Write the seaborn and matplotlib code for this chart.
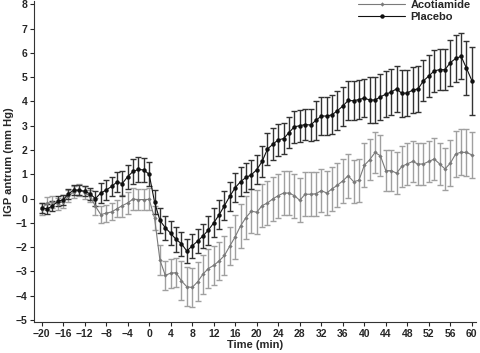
import matplotlib
matplotlib.use("Agg")
import matplotlib.pyplot as plt
import numpy as np
import pandas as pd
import seaborn as sns

time_min = list(range(-20, 61))

placebo = [-0.38, -0.42, -0.31, -0.11, -0.05, 0.20, 0.35, 0.35, 0.30, 0.20,
           0.00, 0.23, 0.35, 0.50, 0.68, 0.62, 0.90, 1.12, 1.20, 1.18,
           1.00, -0.14, -0.90, -1.20, -1.43, -1.68, -1.86, -2.16, -1.95, -1.75,
           -1.54, -1.30, -1.00, -0.67, -0.29, 0.10, 0.45, 0.70, 0.87, 0.98,
           1.19, 1.53, 2.04, 2.24, 2.42, 2.47, 2.72, 2.96, 3.00, 3.05,
           3.03, 3.22, 3.40, 3.40, 3.45, 3.62, 3.81, 4.04, 4.03, 4.08,
           4.14, 4.06, 4.06, 4.19, 4.30, 4.39, 4.52, 4.33, 4.35, 4.47,
           4.52, 4.85, 5.05, 5.26, 5.31, 5.31, 5.60, 5.77, 5.86, 5.37,
           4.86]

placebo_sem = ([0.2] * 9 + [0.25, 0.3] + [0.4] * 4 + [0.5] * 6 + [0.5] * 10 +
               [0.6] * 10 + [0.65] * 10 + [0.8] * 10 + [0.95] * 10 +
               [0.85] * 5 + [0.95] * 3 + [1.1, 1.4])

acotiamide = [-0.42, -0.20, -0.15, -0.22, -0.12, 0.10, 0.28, 0.35, 0.25, 0.10,
              -0.31, -0.66, -0.60, -0.55, -0.42, -0.29, -0.18, -0.02, -0.04, -0.04,
              -0.03, -0.80, -2.53, -3.16, -3.07, -3.05, -3.39, -3.63, -3.66, -3.43,
              -3.11, -2.88, -2.75, -2.57, -2.34, -1.95, -1.57, -1.12, -0.78, -0.52,
              -0.56, -0.29, -0.18, -0.01, 0.12, 0.23, 0.23, 0.12, -0.07, 0.18,
              0.18, 0.20, 0.33, 0.23, 0.40, 0.55, 0.73, 0.94, 0.70, 0.75,
              1.37, 1.60, 1.90, 1.76, 1.15, 1.15, 1.05, 1.33, 1.43, 1.53,
              1.42, 1.43, 1.53, 1.63, 1.43, 1.22, 1.46, 1.84, 1.91, 1.90,
              1.80]

acotiamide_sem = ([0.25] * 10 + [0.35] * 5 + [0.45] * 6 + [0.5] + [0.6] * 4 +
                  [0.8] * 10 + [0.9] * 25 + [0.85] * 15 + [0.95] * 5)

df = pd.DataFrame({
    "time": time_min * 2,
    "igp": acotiamide + placebo,
    "sem": acotiamide_sem + placebo_sem,
    "group": ["Acotiamide"] * len(time_min) + ["Placebo"] * len(time_min),
})

sns.set_style("ticks")
plt.rcParams["font.family"] = ["Liberation Sans", "DejaVu Sans"]
plt.rcParams["font.weight"] = "bold"

fig = plt.figure(figsize=(4.8, 3.53), dpi=100)
ax = fig.add_axes([0.071, 0.088, 0.921, 0.91])

colors = {"Acotiamide": "#7a7a7a", "Placebo": "#111111"}
bar_colors = {"Acotiamide": "#a0a0a0", "Placebo": "#333333"}
markers = {"Acotiamide": "D", "Placebo": "o"}
msize = {"Acotiamide": 2.2, "Placebo": 3.2}

for g, sub in df.groupby("group"):
    ax.errorbar(sub["time"], sub["igp"], yerr=sub["sem"], fmt="none",
                ecolor=bar_colors[g], elinewidth=1.0, capsize=2.5,
                capthick=1.0, zorder=2 if g == "Acotiamide" else 3)

for g in ["Acotiamide", "Placebo"]:
    sub = df[df["group"] == g]
    sns.lineplot(data=sub, x="time", y="igp", ax=ax, color=colors[g],
                 marker=markers[g], markersize=msize[g], markeredgewidth=0,
                 linewidth=0.8, label=g, zorder=4)

ax.set_xlim(-21.4, 60.8)
ax.set_ylim(-5.08, 8.15)
ax.set_xticks(range(-20, 61, 4))
ax.set_yticks(range(-5, 9))
ax.tick_params(labelsize=7.5, length=3, width=0.8, pad=2)
ax.set_xlabel("Time (min)", fontsize=8, fontweight="bold", labelpad=1)
ax.set_ylabel("IGP antrum (mm Hg)", fontsize=8, fontweight="bold", labelpad=1)
sns.despine(ax=ax)
for s in ["left", "bottom"]:
    ax.spines[s].set_linewidth(0.8)
    ax.spines[s].set_color("#333333")

leg = ax.legend(loc="upper right", frameon=False, fontsize=8,
                handlelength=4.2, handletextpad=0.5, borderaxespad=0.1,
                labelspacing=0.15, bbox_to_anchor=(1.0, 1.02))
for t in leg.get_texts():
    t.set_fontweight("bold")

fig.savefig("out.png", dpi=100)
